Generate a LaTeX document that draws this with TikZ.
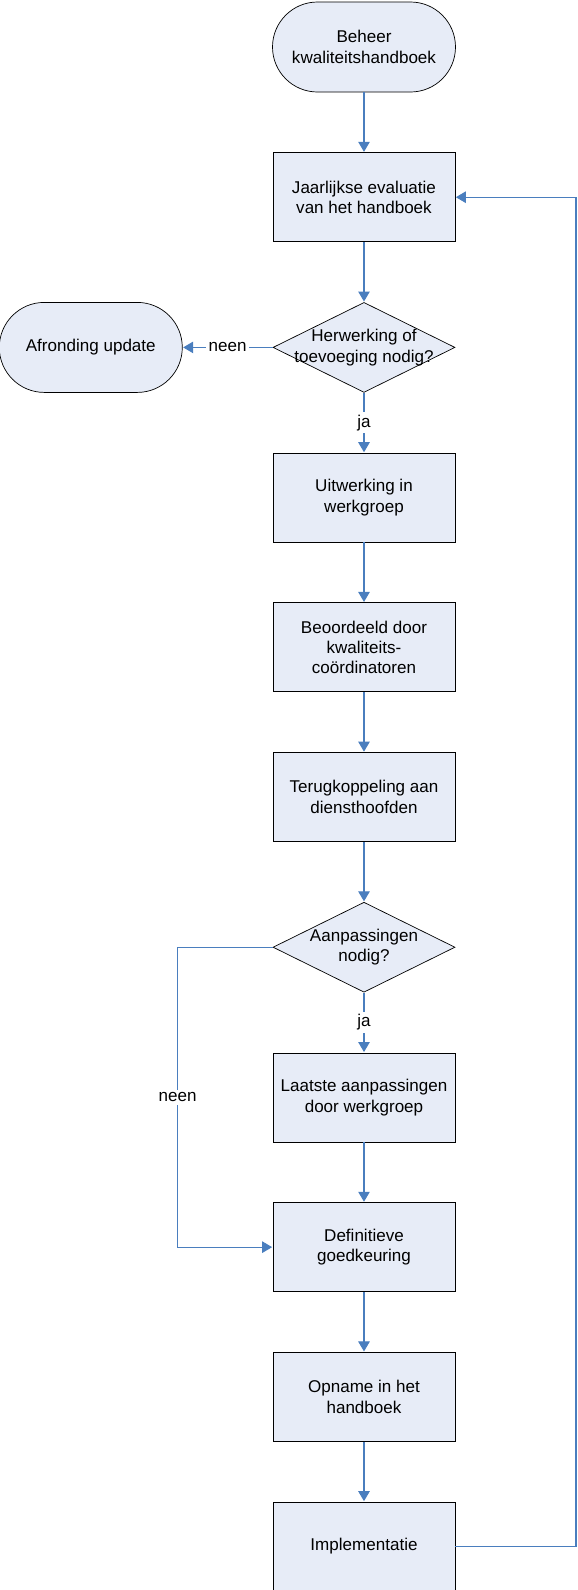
\documentclass[tikz,border=0pt]{standalone}
\usepackage{fontspec}
\setmainfont{Liberation Sans}
\usepackage{tikz}
\usetikzlibrary{positioning}
\usetikzlibrary{shapes.geometric}
\usetikzlibrary{arrows.meta}
\definecolor{boxfill}{RGB}{231,236,247}
\definecolor{linkblue}{RGB}{74,126,190}

\begin{document}
\begin{tikzpicture}[
		font=\fontsize{9.7}{11.6}\selectfont,
		term/.style={draw, rectangle, rounded corners=0.9cm, fill=boxfill, thin, minimum width=3.66cm, minimum height=1.8cm, align=center},
		proc/.style={draw, rectangle, fill=boxfill, thin, minimum width=3.64cm, minimum height=1.78cm, align=center},
		decide/.style={draw, diamond, fill=boxfill, thin, inner sep=0pt, minimum width=3.64cm, minimum height=1.8cm},
		conn/.style={draw=linkblue, line width=0.6pt, -{Triangle[length=2mm,width=2.3mm]}, shorten >=0.3pt},
		lbl/.style={fill=white, inner sep=1.5pt}
	]
	\useasboundingbox (0,0) rectangle (11.54,-31.8);
	
	\node[term] (start) at (7.28,-0.94) {Beheer\\kwaliteitshandboek};
	\node[proc, below = 1.2cm of start] (a) {Jaarlijkse evaluatie\\van het handboek};
	\node[decide, below = 1.2cm of a, label={[align=center]center:Herwerking of\\toevoeging nodig?}] (q1) {};
	\node[term, left = 1.8cm of q1] (stop) {Afronding update};
	\node[proc, below = 1.2cm of q1] (b) {Uitwerking in\\werkgroep};
	\node[proc, below = 1.2cm of b] (c) {Beoordeeld door\\kwaliteits-\\coördinatoren};
	\node[proc, below = 1.2cm of c] (d) {Terugkoppeling aan\\diensthoofden};
	\node[decide, below = 1.2cm of d, label={[align=center]center:Aanpassingen\\nodig?}] (q2) {};
	\node[proc, below = 1.2cm of q2] (e) {Laatste aanpassingen\\door werkgroep};
	\node[proc, below = 1.2cm of e] (f) {Definitieve\\goedkeuring};
	\node[proc, below = 1.2cm of f] (g) {Opname in het\\handboek};
	\node[proc, below = 1.2cm of g] (h) {Implementatie};
	
	\coordinate[left = 1.9cm of e.west] (skip);
	\coordinate (back) at (11.52,0);
	
	\draw[conn] (start) -- (a);
	\draw[conn] (a) -- (q1);
	\draw[conn] (q1) -- (stop) node[lbl, pos = 0.5] {neen};
	\draw[conn] (q1) -- (b) node[lbl, pos = 0.5] {ja};
	\draw[conn] (b) -- (c);
	\draw[conn] (c) -- (d);
	\draw[conn] (d) -- (q2);
	\draw[conn] (q2) -- (e) node[lbl, pos = 0.5] {ja};
	\draw[conn] (q2.west) -| (skip) node[lbl] {neen} |- (f.west);
	\draw[conn] (e) -- (f);
	\draw[conn] (f) -- (g);
	\draw[conn] (g) -- (h);
	\draw[conn] (h.east) -| (back |- a.east) -- (a.east);
\end{tikzpicture}
\end{document}
